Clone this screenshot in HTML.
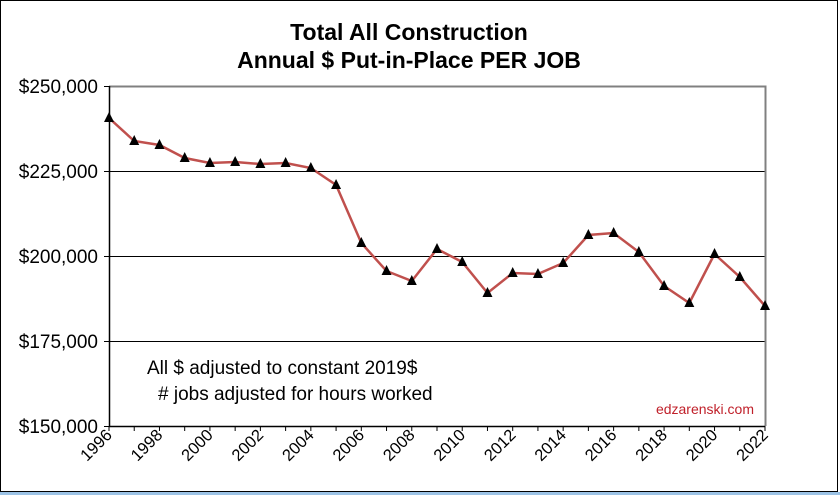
<!DOCTYPE html><html><head><style>body{margin:0;background:#fff}svg{display:block;font-family:"Liberation Sans",Arial,sans-serif}</style></head><body>
<svg width="840" height="495" viewBox="0 0 840 495">
<rect x="0.5" y="0.5" width="837" height="491" fill="#fff" stroke="#000"/>
<line x1="0" y1="493.5" x2="840" y2="493.5" stroke="#9cc3e6" stroke-width="3"/>
<text x="409" y="40" font-size="23" font-weight="bold" text-anchor="middle">Total All Construction</text>
<text x="409" y="68" font-size="23" font-weight="bold" text-anchor="middle">Annual $ Put-in-Place PER JOB</text>
<g stroke="#000" stroke-width="1">
<line x1="109" y1="171.5" x2="765" y2="171.5"/><line x1="109" y1="256.5" x2="765" y2="256.5"/><line x1="109" y1="341.5" x2="765" y2="341.5"/>
</g>
<polyline points="109,86.5 765.5,86.5 765.5,426" fill="none" stroke="#808080" stroke-width="2"/>
<polyline points="109.5,86 109.5,426.5 765,426.5" fill="none" stroke="#000" stroke-width="1.5"/>
<g stroke="#000"><line x1="104" y1="86.5" x2="109" y2="86.5"/><line x1="104" y1="171.5" x2="109" y2="171.5"/><line x1="104" y1="256.5" x2="109" y2="256.5"/><line x1="104" y1="341.5" x2="109" y2="341.5"/><line x1="104" y1="426.5" x2="109" y2="426.5"/></g>
<g font-size="19" text-anchor="end">
<text x="98" y="93">$250,000</text><text x="98" y="178">$225,000</text><text x="98" y="263">$200,000</text><text x="98" y="348">$175,000</text><text x="98" y="433">$150,000</text></g>
<g id="ticks" stroke="#000"></g>
<g id="xl" font-size="16.5" text-anchor="end"></g>
<text x="147" y="374" font-size="19">All $ adjusted to constant 2019$</text>
<text x="158" y="400" font-size="19"># jobs adjusted for hours worked</text>
<text x="754" y="414" font-size="14" fill="#c0202a" text-anchor="end">edzarenski.com</text>
<polyline id="ln" fill="none" stroke="#c0504d" stroke-width="2.5"/>
<g id="mk"></g>
</svg>
<script>
var ys=[118,141,145,158,163,162,164,163,168,185,243,271,281,249,262,293,273,274,263,235,233,252,286,303,254,277,306];
var pts=[],mk="",tk="",xl="";
for(var i=0;i<27;i++){var x=109+i*656/26;pts.push(x.toFixed(1)+","+ys[i]);
mk+='<polygon points="'+x+','+(ys[i]-6)+' '+(x-5)+','+(ys[i]+4)+' '+(x+5)+','+(ys[i]+4)+'" fill="#000"/>';
tk+='<line x1="'+x+'" y1="426" x2="'+x+'" y2="431"/>';
if(i%2==0)xl+='<text transform="translate('+(x+4)+',436) rotate(-45)">'+(1996+i)+'</text>';}
document.getElementById("ln").setAttribute("points",pts.join(" "));
document.getElementById("mk").innerHTML=mk;
document.getElementById("ticks").innerHTML=tk;
document.getElementById("xl").innerHTML=xl;
</script>
</body></html>
